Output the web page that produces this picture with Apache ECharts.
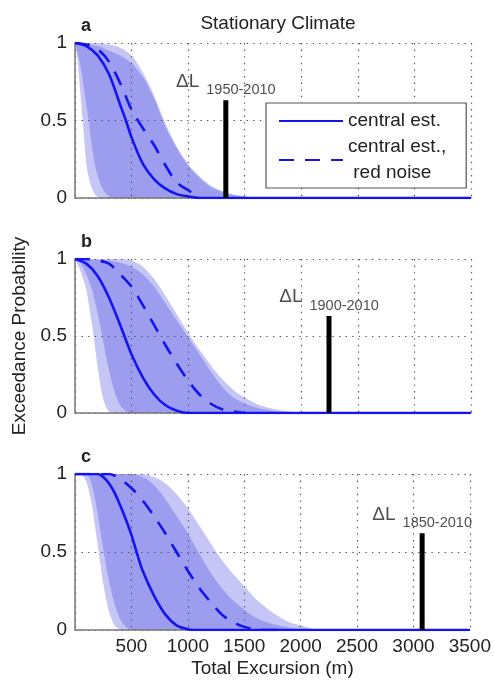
<!DOCTYPE html>
<html>
<head>
<meta charset="utf-8">
<script src="https://cdn.jsdelivr.net/npm/echarts@6/dist/echarts.min.js"></script>
<style>html,body{margin:0;padding:0;background:#fff}#c{width:494px;height:684px}</style>
</head>
<body>
<div id="c"></div>
<script>
// ---- data: [Total Excursion (m), Exceedance Probability] ----
// Panel a
var aSolid  = [[0,1],[100,0.98],[200,0.92],[300,0.8],[400,0.6],[450,0.5],[500,0.39],[600,0.22],[700,0.12],[800,0.06],[900,0.025],[1000,0.01],[1100,0],[3500,0]];
var aDashed = [[0,1],[100,0.99],[200,0.96],[300,0.88],[400,0.74],[500,0.57],[600,0.45],[700,0.34],[800,0.21],[900,0.1],[1000,0.05],[1070,0.02],[1100,0.01]];
var aL1 = [[0,1],[20,0.9],[45,0.7],[68,0.5],[85,0.35],[104,0.2],[140,0.08],[180,0.02],[220,0]];
var aL2 = [[0,1],[30,0.92],[60,0.8],[90,0.65],[120,0.5],[150,0.33],[180,0.2],[220,0.1],[260,0.04],[320,0]];
var aU2 = [[0,1],[200,0.98],[300,0.95],[400,0.92],[500,0.87],[600,0.78],[700,0.64],[800,0.46],[900,0.32],[1000,0.21],[1100,0.13],[1200,0.07],[1300,0.04],[1400,0.02],[1500,0.01],[1600,0]];
var aU1 = [[0,1],[200,1],[300,0.99],[400,0.97],[500,0.92],[600,0.81],[700,0.66],[800,0.48],[900,0.33],[1000,0.22],[1100,0.14],[1200,0.08],[1300,0.045],[1400,0.022],[1500,0.01],[1620,0]];
// Panel b
var bSolid  = [[0,1],[100,0.97],[200,0.89],[300,0.75],[400,0.57],[500,0.38],[600,0.23],[700,0.12],[800,0.05],[900,0.015],[1000,0],[3500,0]];
var bDashed = [[0,1],[100,1],[200,0.99],[300,0.97],[400,0.9],[500,0.82],[600,0.7],[700,0.57],[800,0.44],[900,0.32],[1000,0.21],[1100,0.12],[1200,0.06],[1300,0.025],[1400,0.01],[1500,0]];
var bL1 = [[0,1],[50,0.92],[100,0.8],[140,0.62],[165,0.5],[200,0.3],[240,0.12],[280,0.03],[320,0]];
var bL2 = [[0,1],[50,0.97],[100,0.9],[150,0.8],[200,0.65],[240,0.5],[300,0.28],[350,0.14],[400,0.05],[450,0.01],[480,0]];
var bU2 = [[0,1],[300,0.99],[400,0.975],[500,0.95],[600,0.9],[700,0.82],[800,0.71],[900,0.6],[1000,0.49],[1100,0.38],[1200,0.27],[1300,0.17],[1400,0.1],[1500,0.06],[1600,0.035],[1700,0.02],[1800,0.01],[1900,0]];
var bU1 = [[0,1],[400,1],[500,0.99],[600,0.95],[700,0.87],[800,0.76],[900,0.64],[1000,0.52],[1100,0.41],[1200,0.31],[1300,0.22],[1400,0.15],[1500,0.1],[1600,0.06],[1700,0.035],[1800,0.02],[1900,0.01],[2000,0]];
// Panel c
var cSolid  = [[0,1],[200,1],[250,0.98],[300,0.94],[350,0.88],[400,0.8],[450,0.71],[500,0.61],[550,0.49],[600,0.38],[700,0.22],[800,0.1],[900,0.03],[1000,0.005],[1050,0],[3500,0]];
var cDashed = [[0,1],[300,1],[350,0.99],[400,0.97],[500,0.91],[600,0.83],[700,0.73],[800,0.62],[900,0.5],[1000,0.38],[1100,0.27],[1200,0.18],[1300,0.1],[1400,0.05],[1500,0.02],[1600,0.005],[1700,0],[1800,0]];
var cL1 = [[0,1],[50,1],[100,0.95],[150,0.8],[200,0.55],[250,0.3],[300,0.12],[350,0.03],[400,0]];
var cL2 = [[0,1],[100,1],[150,0.93],[200,0.75],[250,0.52],[300,0.32],[350,0.17],[400,0.07],[450,0.02],[500,0]];
var cU2 = [[0,1],[500,1],[600,0.98],[700,0.93],[800,0.84],[900,0.73],[1000,0.62],[1100,0.49],[1200,0.37],[1300,0.27],[1400,0.19],[1500,0.13],[1600,0.08],[1700,0.05],[1800,0.03],[1900,0.015],[2000,0.005],[2100,0]];
var cU1 = [[0,1],[600,1],[700,0.98],[800,0.94],[900,0.87],[1000,0.78],[1100,0.67],[1200,0.56],[1300,0.45],[1400,0.36],[1500,0.28],[1600,0.2],[1700,0.14],[1800,0.09],[1900,0.05],[2000,0.03],[2100,0.01],[2200,0]];
// observed retreat markers
var deltaX = [1333, 2245, 3077];
var deltaTop = [0.63, 0.63, 0.62];
var periods = ['1950-2010', '1900-2010', '1850-2010'];
var panelLetters = ['a', 'b', 'c'];
var xTicks = [0, 500, 1000, 1500, 2000, 2500, 3000, 3500];
var yTicks = [0, 0.5, 1];

var FONT = 'Liberation Sans, Arial, sans-serif';
var LIGHT = '#c6c6f6', DARK = '#9d9df0', BLUE = '#1414ee';
var SMOOTH = 0.3;
var panels = [
  {solid: aSolid, dashed: aDashed, L1: aL1, L2: aL2, U2: aU2, U1: aU1},
  {solid: bSolid, dashed: bDashed, L1: bL1, L2: bL2, U2: bU2, U1: bU1},
  {solid: cSolid, dashed: cDashed, L1: cL1, L2: cL2, U2: cU2, U1: cU1}
];
var gridTops = [43, 259, 474], gridHeights = [155, 154, 156];

var grids = [], xAxes = [], yAxes = [], series = [], titles = [];
var gridLine = {show: true, lineStyle: {color: '#555', width: 1.2, type: [1.4, 5.2]}};
panels.forEach(function (p, i) {
  grids.push({left: 75, right: 23, top: gridTops[i], height: gridHeights[i]});
  xAxes.push({
    type: 'value', gridIndex: i, min: xTicks[0], max: xTicks[xTicks.length - 1], interval: 500, z: 2,
    axisLine: {show: true, onZero: false, lineStyle: {color: '#777', width: 1.5}},
    axisTick: {show: false},
    axisLabel: {show: i === 2, showMinLabel: false, fontFamily: FONT, fontSize: 19, color: '#222', margin: 7,
      formatter: function (v) { return String(v); }},
    splitLine: gridLine,
    name: i === 2 ? 'Total Excursion (m)' : '', nameLocation: 'middle', nameGap: 29,
    nameTextStyle: {fontFamily: FONT, fontSize: 19, color: '#222'}
  });
  yAxes.push({
    type: 'value', gridIndex: i, min: yTicks[0], max: yTicks[2], interval: 0.5, z: 2,
    axisLine: {show: true, lineStyle: {color: '#777', width: 1.5}},
    axisTick: {show: false},
    axisLabel: {fontFamily: FONT, fontSize: 19, color: '#222', margin: 8},
    splitLine: gridLine,
    name: i === 1 ? 'Exceedance Probability' : '', nameLocation: 'middle', nameGap: 46, nameRotate: 90,
    nameTextStyle: {fontFamily: FONT, fontSize: 19, color: '#222'}
  });
  var bands = [[p.U1, LIGHT], [p.U2, DARK], [p.L2, LIGHT], [p.L1, '#ffffff']];
  bands.forEach(function (b, k) {
    series.push({
      type: 'line', name: 'band' + i + '_' + k, xAxisIndex: i, yAxisIndex: i, data: b[0],
      symbol: 'none', smooth: SMOOTH, z: 1, silent: true,
      lineStyle: {width: 0}, areaStyle: {color: b[1], opacity: 1}
    });
  });
  series.push({
    type: 'line', name: i === 0 ? 'central est.' : 'solid' + i, xAxisIndex: i, yAxisIndex: i, data: p.solid,
    symbol: 'none', smooth: SMOOTH, z: 3, lineStyle: {color: BLUE, width: 2.6}, itemStyle: {color: BLUE}
  });
  series.push({
    type: 'line', name: i === 0 ? 'central est.,\n red noise' : 'dashed' + i, xAxisIndex: i, yAxisIndex: i, data: p.dashed,
    symbol: 'none', smooth: SMOOTH, z: 3, lineStyle: {color: BLUE, width: 2.6, type: [15, 11]}, itemStyle: {color: BLUE}
  });
  series.push({
    type: 'line', name: 'delta' + i, xAxisIndex: i, yAxisIndex: i,
    data: [[deltaX[i], 0], [deltaX[i], deltaTop[i]]],
    symbol: 'none', z: 4, lineStyle: {color: '#000', width: 5, cap: 'butt'}
  });
  series.push({
    type: 'scatter', name: 'deltaLabel' + i, xAxisIndex: i, yAxisIndex: i,
    data: [[deltaX[i], deltaTop[i]]], symbolSize: 1, z: 5, silent: true,
    itemStyle: {color: 'rgba(0,0,0,0)'},
    label: {
      show: true, position: 'top', distance: 0,
      formatter: '{a|\u0394L}{b|' + periods[i] + '}',
      rich: {
        a: {fontFamily: FONT, fontSize: 19, color: '#222', padding: [0, 7, 9, 0]},
        b: {fontFamily: FONT, fontSize: 14.5, color: '#222', padding: [9, 0, 0, 0]}
      }
    }
  });
  titles.push({text: panelLetters[i], left: 76, top: gridTops[i] - 31,
    textStyle: {fontFamily: FONT, fontSize: 18, fontWeight: 'bold', color: '#222'}});
});
titles.push({text: 'Stationary Climate', left: 273, top: 9, textAlign: 'center',
  textStyle: {fontFamily: FONT, fontSize: 19, fontWeight: 'normal', color: '#222'}});

var chart = echarts.init(document.getElementById('c'), null, {renderer: 'canvas'});
chart.setOption({
  animation: false,
  backgroundColor: '#fff',
  title: titles,
  legend: {
    data: ['central est.', 'central est.,\n red noise'],
    orient: 'vertical', left: 266, top: 103,
    padding: [5, 20, 2, 12], itemGap: 0, itemWidth: 64, itemHeight: 14,
    borderColor: '#555', borderWidth: 1.2, backgroundColor: '#fff', z: 6,
    selectedMode: false,
    itemStyle: {opacity: 0},
    textStyle: {fontFamily: FONT, fontSize: 19, color: '#222', lineHeight: 26}
  },
  grid: grids,
  xAxis: xAxes,
  yAxis: yAxes,
  series: series
});
</script>
</body>
</html>
